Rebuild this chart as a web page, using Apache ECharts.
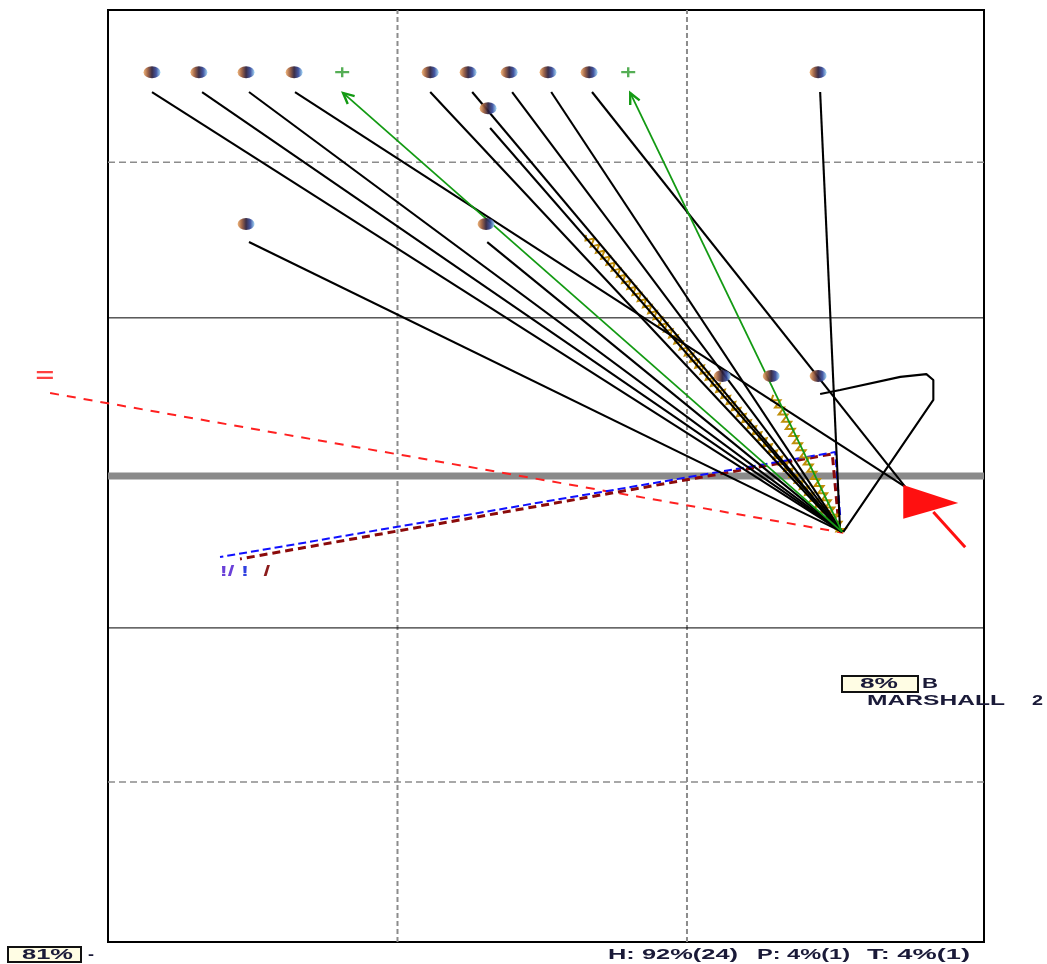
<!DOCTYPE html>
<html><head><meta charset="utf-8">
<script src="https://cdn.jsdelivr.net/npm/echarts/dist/echarts.min.js"></script>
<style>html,body{margin:0;padding:0;background:#fff}#c{width:1047px;height:964px}</style>
</head><body><div id="c"></div>
<script>
// ---- data (field units: x across, y yards from line of scrimmage) ----
const playerMarks = [[1.52,13.0],[3.14,13.0],[4.77,13.0],[6.43,13.0],[11.13,13.0],[12.44,13.0],[13.86,13.0],[15.20,13.0],[16.62,13.0],[24.53,13.0],[13.13,11.84],[4.77,8.11],[13.06,8.11],[21.22,3.22],[22.91,3.22],[24.53,3.22]];
const optionMarks = [[8.09,13.0],[17.97,13.0]];
const blackRoutes = [
  [[1.52,12.36],[25.36,-1.80]],
  [[3.25,12.36],[25.36,-1.80]],
  [[4.87,12.36],[25.36,-1.80]],
  [[6.46,12.36],[27.54,-0.35]],
  [[11.13,12.36],[25.36,-1.80]],
  [[12.58,12.36],[25.36,-1.80]],
  [[13.20,11.20],[25.36,-1.80]],
  [[13.96,12.36],[25.36,-1.80]],
  [[15.31,12.36],[25.36,-1.80]],
  [[16.72,12.36],[27.54,-0.35]],
  [[24.60,12.36],[25.29,-1.80]],
  [[4.87,7.53],[25.36,-1.80]],
  [[13.10,7.53],[25.36,-1.80]],
  [[25.40,-1.80],[28.51,2.45],[28.51,3.09],[28.27,3.28],[27.37,3.19],[25.29,2.77],[24.60,2.64]]
];
const motionRoutes = [[16.51,7.76,25.36,-1.80],[22.98,2.61,25.36,-1.80]];
const passArrows = [[25.36,-1.80,8.12,12.33],[25.36,-1.80,18.04,12.33]];
const redRoute = [[-2.00,2.67],[25.40,-1.83]];
const blueRoute = [[25.29,-1.26],[25.12,0.77],[3.87,-2.61]];
const maroonRoute = [[25.22,-1.32],[25.02,0.71],[4.56,-2.67]];
const runTail = [[29.61,-2.29],[28.51,-1.16]];
const runHead = [[27.47,-0.29],[29.37,-0.87],[27.47,-1.38]];
const fieldTexts = [['=',-2.18,3.19,'#ff4040',20],['!/',4.11,-3.09,'#6a40d8',15],['!',4.73,-3.09,'#3040e0',15],['/',5.49,-3.09,'#8b1a1a',15]];
const solidYardLines = [5.09,-4.89];
const dashedYardLines = [10.1,-9.85];
const dashedColumns = [10,20];
const scrimmage = 0;
const X_MIN = 0, X_MAX = 30.26, Y_MIN = -15, Y_MAX = 15;
const boxLabel = '8%', boxSide = 'B', playerName = 'MARSHALL', playerNo = '2';
const footBox = '81%', footDash = '-';
const summaryLabels = ['H: 92%(24)','P: 4%(1)','T: 4%(1)'];

// ---- chart ----
const chart = echarts.init(document.getElementById('c'), null, {renderer:'canvas'});
const mctx = document.createElement('canvas').getContext('2d');
function fitScale(text, font, w){ mctx.font = font; return w / mctx.measureText(text).width; }
const FONT_B = 'bold 14px "Liberation Sans"';
const FONT_N = 'bold 15px "Liberation Sans"';
const INK = '#1a1a38';
function txt(text, x, y, w, font, z){
  return {type:'text', x:x, y:y, scaleX: fitScale(text, font, w), z: z||10,
    style:{text:text, font:font, fill:INK, align:'left', verticalAlign:'middle', textAlign:'left', textVerticalAlign:'middle'}};
}

function hLine(y){ return [[X_MIN,y],[X_MAX,y]]; }
function vLine(x){ return [[x,Y_MIN],[x,Y_MAX]]; }
const series = [];
function addLine(data, ls, z){
  series.push({type:'line', data:data, showSymbol:false, symbol:'none', silent:true, z:z, lineStyle:ls, animation:false});
}
dashedYardLines.forEach(y=>addLine(hLine(y), {color:'#8c8c8c', width:1.5, type:[7,4]}, 1));
dashedColumns.forEach(x=>addLine(vLine(x), {color:'#8c8c8c', width:2, type:[5,3]}, 1));
solidYardLines.forEach(y=>addLine(hLine(y), {color:'#000', width:1}, 1));
addLine(hLine(scrimmage), {color:'#8a8a8a', width:7}, 2);
addLine(maroonRoute, {color:'#8b0a0a', width:3, type:[8,5]}, 3);
addLine(blueRoute, {color:'#1010ff', width:2, type:[8,4]}, 4);
addLine(runTail, {color:'#ff1010', width:3}, 6);
blackRoutes.forEach(r=>addLine(r, {color:'#000', width:2.1}, 5));

// red dashed route that leaves the field on the left (drawn unclipped)
series.push({type:'custom', z:3, silent:true, animation:false, clip:false, data:[0],
  renderItem:function(p, api){
    return {type:'polyline', shape:{points: redRoute.map(pt=>api.coord(pt))},
      style:{stroke:'#ff2020', lineWidth:2, lineDash:[9,8], fill:null}};
  }});
series.push({type:'custom', z:6, silent:true, animation:false, data:[0],
  renderItem:function(p, api){
    return {type:'polygon', shape:{points: runHead.map(pt=>api.coord(pt))}, style:{fill:'#ff1010'}};
  }});
series.push({type:'custom', z:5, silent:true, animation:false, data:motionRoutes, encode:{x:[0,2], y:[1,3]},
  renderItem:function(p, api){
    const a = api.coord([api.value(0), api.value(1)]), b = api.coord([api.value(2), api.value(3)]);
    const dx=b[0]-a[0], dy=b[1]-a[1], len=Math.hypot(dx,dy), ux=dx/len, uy=dy/len, nx=-uy, ny=ux;
    const pts=[a]; let k=0;
    for(let s=4; s<len; s+=4, k++){ const o = (k%2)? -4 : 4; pts.push([a[0]+ux*s+nx*o, a[1]+uy*s+ny*o]); }
    pts.push(b);
    return {type:'polyline', shape:{points:pts}, style:{stroke:'#c08e08', lineWidth:2, fill:null}};
  }});
series.push({type:'custom', z:7, silent:true, animation:false, data:passArrows, encode:{x:[0,2], y:[1,3]},
  renderItem:function(p, api){
    const a = api.coord([api.value(0), api.value(1)]), b = api.coord([api.value(2), api.value(3)]);
    const ang = Math.atan2(b[1]-a[1], b[0]-a[0]), L=12, w=0.45;
    const h1=[b[0]-L*Math.cos(ang-w), b[1]-L*Math.sin(ang-w)], h2=[b[0]-L*Math.cos(ang+w), b[1]-L*Math.sin(ang+w)];
    return {type:'group', children:[
      {type:'line', shape:{x1:a[0],y1:a[1],x2:b[0],y2:b[1]}, style:{stroke:'#139a13', lineWidth:1.8}},
      {type:'polyline', shape:{points:[h1,b,h2]}, style:{stroke:'#139a13', lineWidth:2.4, fill:null}}
    ]};
  }});
series.push({type:'custom', z:9, silent:true, animation:false, clip:false, data:fieldTexts.map(t=>[t[1],t[2]]),
  renderItem:function(p, api){
    const t = fieldTexts[p.dataIndex]; const c = api.coord([api.value(0), api.value(1)]);
    return {type:'text', x:c[0], y:c[1], scaleX:1.6,
      style:{text:t[0], fill:t[3], font:'bold '+t[4]+'px "Liberation Sans"', align:'center', verticalAlign:'middle', textAlign:'center', textVerticalAlign:'middle'}};
  }});
series.push({type:'scatter', z:8, silent:true, animation:false, data:playerMarks, symbol:'circle', symbolSize:[17,12],
  itemStyle:{color:new echarts.graphic.LinearGradient(0,0,1,0,[{offset:0,color:'#f0b070'},{offset:0.25,color:'#9a5a3a'},{offset:0.5,color:'#2a1c38'},{offset:0.75,color:'#34489a'},{offset:1,color:'#a0d8f8'}]), opacity:0.92}});
series.push({type:'scatter', z:8, silent:true, animation:false, data:optionMarks, symbol:'path://M0,4 L14,4 L14,6.5 L0,6.5 Z M5.8,0 L8.2,0 L8.2,10.5 L5.8,10.5 Z', symbolSize:[14,10],
  itemStyle:{color:'#2a9a2a'}});

chart.setOption({
  animation:false,
  grid:{left:108, right:63, top:10, bottom:22, show:true, borderColor:'#000', borderWidth:2, backgroundColor:'transparent', z:0},
  xAxis:{type:'value', min:X_MIN, max:X_MAX, show:false},
  yAxis:{type:'value', min:Y_MIN, max:Y_MAX, show:false},
  series:series,
  graphic:[
    {type:'rect', z:10, shape:{x:842,y:676,width:76,height:16}, style:{fill:'#fffde4', stroke:'#111', lineWidth:2}},
    txt(boxLabel, 860, 684.5, 38, FONT_B),
    txt(boxSide, 922, 684.5, 16, FONT_B),
    txt(playerName, 867, 700.5, 138, FONT_N),
    txt(playerNo, 1032, 700.5, 11, FONT_N),
    {type:'rect', z:10, shape:{x:8,y:947,width:73,height:15}, style:{fill:'#fffde4', stroke:'#111', lineWidth:2}},
    txt(footBox, 22, 955, 51, FONT_B),
    txt(footDash, 88, 955, 6, FONT_B),
    txt(summaryLabels[0], 608, 955, 130, FONT_B),
    txt(summaryLabels[1], 757, 955, 93, FONT_B),
    txt(summaryLabels[2], 867, 955, 103, FONT_B)
  ]
});
</script></body></html>
